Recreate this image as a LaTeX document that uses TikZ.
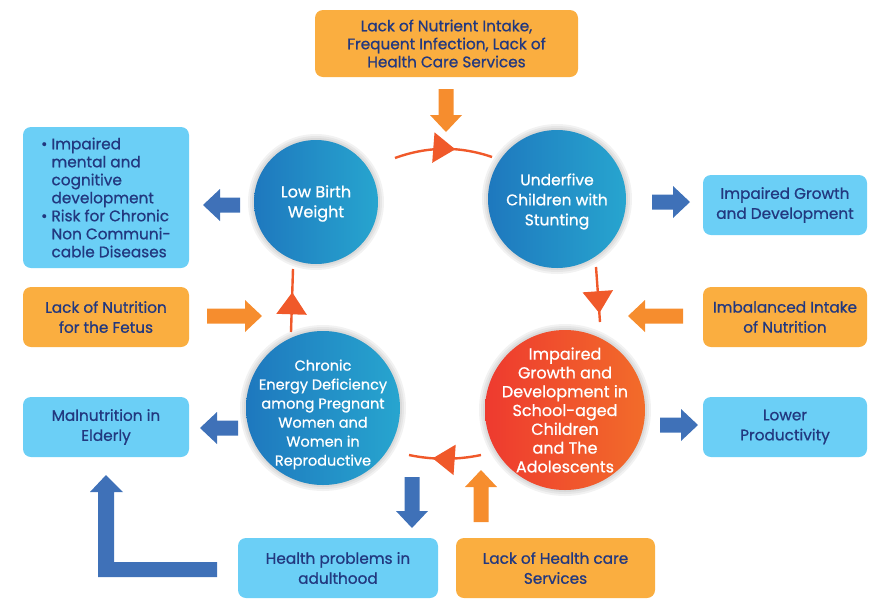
\documentclass[tikz,border=0pt]{standalone}
\usepackage{fontspec}
\setmainfont{Poppins}[FakeBold=0.8]
\usetikzlibrary{decorations.markings,arrows.meta}
\definecolor{navy}{HTML}{22387F}
\definecolor{obox}{HTML}{FAAE40}
\definecolor{bbox}{HTML}{6BCFF6}
\definecolor{barr}{HTML}{3F71B8}
\definecolor{oarr}{HTML}{F68D2E}
\definecolor{cyc}{HTML}{F0592A}
\definecolor{cbl}{HTML}{1E78BE}
\definecolor{cbr}{HTML}{27A5CF}
\definecolor{crl}{HTML}{EE3A2F}
\definecolor{crr}{HTML}{F26C2A}
\newcommand{\bfnt}{\fontsize{15.3}{18}\selectfont}
\newcommand{\blockarr}[4]{% tail x,y ; rotation ; length ; colour
  \fill[#4,shift={(#1)},rotate=#2] (0,-7.5) -- (#3-17,-7.5) -- (#3-17,-16) -- (#3,0) -- (#3-17,16) -- (#3-17,7.5) -- (0,7.5) -- cycle;}
\newcommand{\circshadow}[2]{%
  \foreach \d in {0,2,4,6}{\fill[black,opacity=0.05,shift={(3,4)}] (#1) circle ({#2+\d});}}
\begin{document}
\begin{tikzpicture}[x=1pt,y=-1pt,
  box/.style={rounded corners=8pt,align=center,text=navy,font=\bfnt,inner sep=0pt},
  obx/.style={box,fill=obox},
  bbx/.style={box,fill=bbox},
  ctext/.style={align=center,text=white},
  cycline/.style={draw=cyc,line width=2.4pt},
  midarr/.style={postaction={decorate},decoration={markings,mark=at position #1 with {\arrow{Triangle[length=22pt,width=30pt]}}}},
]
\useasboundingbox (0,0) rectangle (871,598);

% circles
\coordinate (cLBW) at (316,202);
\coordinate (cU5) at (557,199);
\coordinate (cCED) at (323,408);
\coordinate (cIMP) at (565,410);
\circshadow{cLBW}{62}
\circshadow{cU5}{69}
\circshadow{cCED}{77}
\circshadow{cIMP}{80}
\shade[left color=cbl,right color=cbr] (cLBW) circle (62);
\shade[left color=cbl,right color=cbr] (cU5) circle (69);
\shade[left color=cbl,right color=cbr] (cCED) circle (77);
\shade[left color=crl,right color=crr] (cIMP) circle (80);
\node[ctext,font=\fontsize{16}{20}\selectfont] (lbw) at ([yshift=-1.5pt]cLBW) {Low Birth\\Weight};
\node[ctext,font=\fontsize{15.5}{20}\selectfont] (u5) at ([yshift=-2.5pt]cU5) {Underfive\\Children with\\Stunting};
\node[ctext,font=\fontsize{14.5}{19}\selectfont] (ced) at ([yshift=-6.5pt]cCED) {Chronic\\Energy Deficiency\\among Pregnant\\Women and\\Women in\\Reproductive};
\node[ctext,font=\fontsize{16}{18.8}\selectfont] (imp) at (cIMP) {Impaired\\Growth and\\Development in\\School-aged\\Children\\and The\\Adolescents};

% boxes
\node[obx,minimum width=263,minimum height=67] (top) at (446.5,43.5) {Lack of Nutrient Intake,\\Frequent Infection, Lack of\\Health Care Services};
\node[bbx,minimum width=166,minimum height=141,align=left] (lt) at (106,197.5) {\textbullet\ Impaired\\\phantom{\textbullet\ }mental and\\\phantom{\textbullet\ }cognitive\\\phantom{\textbullet\ }development\\\textbullet\ Risk for Chronic\\\phantom{\textbullet\ }Non Communi-\\\phantom{\textbullet\ }cable Diseases};
\node[bbx,minimum width=164,minimum height=60,font=\fontsize{15.3}{20}\selectfont] (rt) at (785,205) {Impaired Growth\\and Development};
\node[obx,minimum width=166,minimum height=60,font=\fontsize{15.3}{20}\selectfont] (lo) at (106,317) {Lack of Nutrition\\for the Fetus};
\node[obx,minimum width=164,minimum height=60,font=\fontsize{15.3}{20}\selectfont] (ro) at (785,317) {Imbalanced Intake\\of Nutrition};
\node[bbx,minimum width=166,minimum height=60,font=\fontsize{15.3}{20}\selectfont] (lb) at (106,427) {Malnutrition in\\Elderly};
\node[bbx,minimum width=164,minimum height=60,font=\fontsize{15.3}{20}\selectfont] (rb) at (785,427) {Lower\\Productivity};
\node[bbx,minimum width=200,minimum height=60,font=\fontsize{15.3}{20}\selectfont] (bb) at (338,568) {Health problems in\\adulthood};
\node[obx,minimum width=199,minimum height=60,font=\fontsize{15.3}{20}\selectfont] (bo) at (555.5,568) {Lack of Health care\\Services};

% cycle connectors
\coordinate (a1) at (395,158); \coordinate (a2) at (492,157);
\coordinate (b1) at (596,267); \coordinate (b2) at (600,322);
\coordinate (d1) at (481,455); \coordinate (d2) at (409,455);
\coordinate (e1) at (291,332); \coordinate (e2) at (293,269);
\draw[cycline,midarr=0.62,cyc] (a1) .. controls (428,146) and (460,146) .. (a2);
\draw[cycline,midarr=0.84,cyc] (b1) -- (b2);
\draw[cycline,midarr=0.67,cyc] (d1) .. controls (457,460) and (433,460) .. (d2);
\draw[cycline,midarr=0.63,cyc] (e1) -- (e2);

% block arrows
\blockarr{446,89}{-90}{43}{oarr}
\blockarr{240,205}{180}{37}{barr}
\blockarr{652,202}{0}{38}{barr}
\blockarr{207,316}{0}{55}{oarr}
\blockarr{683,316}{180}{55}{oarr}
\blockarr{238,428}{180}{38}{barr}
\blockarr{660,425}{0}{38}{barr}
\blockarr{412,477}{-90}{51}{barr}
\blockarr{481,522}{90}{52}{oarr}
% L-shaped arrow
\fill[barr] (217,562) -- (217,577) -- (98,577) -- (98,492) -- (90,492) -- (106,475) -- (123,492) -- (114,492) -- (114,562) -- cycle;
\end{tikzpicture}
\end{document}
